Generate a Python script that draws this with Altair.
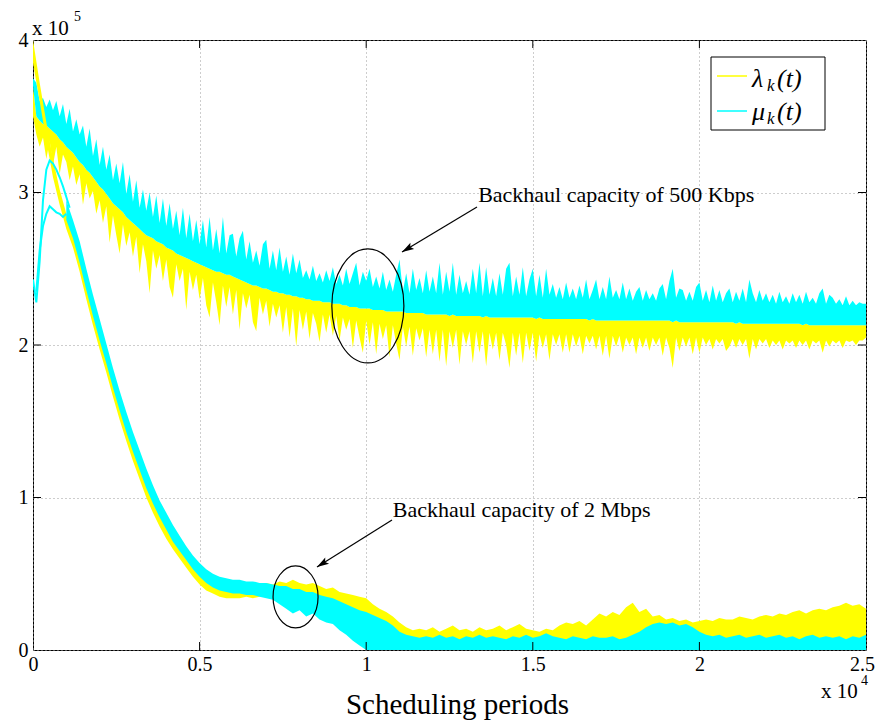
import altair as alt
import pandas as pd

SERIF = "Liberation Serif"
YEL = "#FFFF00"
CYA = "#00FFFF"

# x values are in units of 1e4 scheduling periods, y values in units of 1e5
X_TICKS = [0, 0.5, 1, 1.5, 2, 2.5]
Y_TICKS = [0, 1, 2, 3, 4]
INNER_X_TICKS = [0.5, 1, 1.5, 2]
INNER_Y_TICKS = [1, 2, 3]

# ---------------- 500 Kbps group (sampled every 100 periods) ----------------
U_STEP = 0.01
UPPER_CORE = [
    3.70, 3.50, 3.47, 3.45, 3.44, 3.42, 3.40, 3.38, 3.35, 3.33,
    3.30, 3.28, 3.26, 3.23, 3.20, 3.18, 3.15, 3.13, 3.10, 3.07,
    3.04, 3.02, 2.99, 2.96, 2.93, 2.91, 2.89, 2.87, 2.84, 2.82,
    2.80, 2.78, 2.76, 2.74, 2.72, 2.71, 2.70, 2.68, 2.67, 2.66,
    2.64, 2.63, 2.62, 2.60, 2.59, 2.58, 2.57, 2.56, 2.55, 2.54,
    2.53, 2.52, 2.51, 2.50, 2.49, 2.48, 2.48, 2.47, 2.46, 2.46,
    2.45, 2.44, 2.43, 2.42, 2.41, 2.40, 2.39, 2.39, 2.38, 2.37,
    2.37, 2.36, 2.35, 2.35, 2.34, 2.34, 2.33, 2.33, 2.32, 2.32,
    2.31, 2.31, 2.30, 2.30, 2.29, 2.29, 2.29, 2.28, 2.28, 2.28,
    2.27, 2.27, 2.27, 2.26, 2.26, 2.25, 2.25, 2.25, 2.24, 2.24,
    2.24, 2.24, 2.23, 2.23, 2.23, 2.23, 2.22, 2.22, 2.22, 2.22,
    2.22, 2.22, 2.21, 2.21, 2.21, 2.21, 2.21, 2.21, 2.20, 2.20,
    2.20, 2.20, 2.20, 2.20, 2.20, 2.19, 2.20, 2.19, 2.19, 2.19,
    2.19, 2.19, 2.19, 2.19, 2.19, 2.18, 2.19, 2.18, 2.18, 2.18,
    2.18, 2.18, 2.18, 2.18, 2.18, 2.18, 2.18, 2.18, 2.18, 2.18,
    2.18, 2.17, 2.18, 2.17, 2.17, 2.17, 2.17, 2.17, 2.17, 2.17,
    2.17, 2.17, 2.17, 2.17, 2.17, 2.17, 2.17, 2.16, 2.17, 2.16,
    2.16, 2.16, 2.16, 2.16, 2.16, 2.16, 2.16, 2.16, 2.16, 2.16,
    2.16, 2.16, 2.16, 2.16, 2.16, 2.16, 2.16, 2.16, 2.16, 2.16,
    2.16, 2.16, 2.15, 2.16, 2.15, 2.15, 2.15, 2.15, 2.15, 2.15,
    2.15, 2.15, 2.15, 2.15, 2.15, 2.15, 2.15, 2.15, 2.15, 2.15,
    2.15, 2.14, 2.15, 2.14, 2.14, 2.14, 2.14, 2.14, 2.14, 2.14,
    2.14, 2.14, 2.14, 2.14, 2.14, 2.14, 2.14, 2.14, 2.14, 2.14,
    2.14, 2.13, 2.14, 2.13, 2.13, 2.13, 2.13, 2.13, 2.13, 2.13,
    2.13, 2.13, 2.13, 2.13, 2.13, 2.13, 2.13, 2.13, 2.13, 2.13,
    2.13,
]
UPPER_CYAN_TOP = [
    3.75, 3.72, 3.60, 3.62, 3.56, 3.61, 3.54, 3.60, 3.50, 3.58,
    3.45, 3.55, 3.40, 3.48, 3.38, 3.44, 3.30, 3.42, 3.24, 3.35,
    3.18, 3.30, 3.15, 3.25, 3.08, 3.19, 3.06, 3.20, 2.99, 3.12,
    2.94, 3.08, 2.90, 3.02, 2.88, 3.00, 2.84, 2.98, 2.80, 2.96,
    2.78, 2.93, 2.76, 2.88, 2.72, 2.90, 2.70, 2.86, 2.68, 2.82,
    2.66, 2.82, 2.64, 2.84, 2.62, 2.76, 2.60, 2.84, 2.60, 2.72,
    2.73, 2.58, 2.70, 2.75, 2.56, 2.68, 2.54, 2.62, 2.52, 2.66,
    2.69, 2.50, 2.62, 2.49, 2.64, 2.48, 2.58, 2.46, 2.60, 2.47,
    2.56, 2.44, 2.49, 2.43, 2.52, 2.42, 2.47, 2.41, 2.49, 2.42,
    2.51, 2.40, 2.46, 2.39, 2.50, 2.40, 2.47, 2.54, 2.39, 2.48,
    2.42, 2.50, 2.38, 2.45, 2.37, 2.48, 2.36, 2.43, 2.35, 2.46,
    2.56, 2.35, 2.47, 2.34, 2.50, 2.36, 2.44, 2.34, 2.49, 2.35,
    2.45, 2.34, 2.54, 2.33, 2.48, 2.35, 2.54, 2.33, 2.46, 2.34,
    2.42, 2.33, 2.50, 2.34, 2.54, 2.32, 2.51, 2.33, 2.44, 2.32,
    2.47, 2.33, 2.50, 2.54, 2.32, 2.45, 2.33, 2.51, 2.32, 2.43,
    2.50, 2.32, 2.46, 2.31, 2.50, 2.33, 2.40, 2.31, 2.38, 2.30,
    2.41, 2.31, 2.37, 2.30, 2.39, 2.31, 2.43, 2.30, 2.36, 2.43,
    2.30, 2.38, 2.30, 2.45, 2.31, 2.36, 2.30, 2.41, 2.30, 2.37,
    2.29, 2.35, 2.38, 2.29, 2.36, 2.30, 2.34, 2.29, 2.37, 2.40,
    2.30, 2.42, 2.50, 2.31, 2.37, 2.36, 2.29, 2.35, 2.29, 2.38,
    2.41, 2.29, 2.36, 2.28, 2.39, 2.29, 2.36, 2.28, 2.34, 2.37,
    2.28, 2.35, 2.29, 2.37, 2.28, 2.43, 2.34, 2.28, 2.36, 2.29,
    2.34, 2.28, 2.33, 2.27, 2.35, 2.28, 2.32, 2.27, 2.34, 2.28,
    2.33, 2.27, 2.35, 2.28, 2.31, 2.27, 2.34, 2.37, 2.27, 2.33,
    2.31, 2.27, 2.30, 2.26, 2.32, 2.26, 2.29, 2.26, 2.28, 2.27,
    2.27,
]
UPPER_YELLOW_BOT = [
    3.50, 3.38, 3.30, 3.36, 3.22, 3.34, 3.18, 3.30, 3.12, 3.25,
    3.20, 3.08, 3.17, 3.05, 3.12, 2.92, 3.06, 2.96, 3.01, 2.86,
    2.95, 2.80, 2.91, 2.67, 2.85, 2.72, 2.60, 2.79, 2.65, 2.74,
    2.58, 2.71, 2.47, 2.66, 2.55, 2.34, 2.62, 2.50, 2.59, 2.42,
    2.56, 2.38, 2.31, 2.53, 2.42, 2.50, 2.23, 2.48, 2.36, 2.46,
    2.30, 2.44, 2.26, 2.18, 2.41, 2.28, 2.13, 2.39, 2.25, 2.38,
    2.20, 2.36, 2.10, 2.34, 2.24, 2.33, 2.15, 2.09, 2.31, 2.20,
    2.29, 2.12, 2.27, 2.18, 2.26, 2.08, 2.25, 2.05, 2.24, 1.99,
    2.23, 2.10, 2.22, 2.04, 2.21, 2.14, 2.02, 2.20, 2.08, 2.20,
    2.06, 2.19, 2.03, 2.18, 2.10, 2.17, 1.98, 2.16, 2.05, 1.95,
    2.16, 2.00, 2.15, 1.94, 2.14, 2.04, 2.13, 1.92, 2.13, 2.01,
    1.90, 2.12, 1.99, 2.12, 1.93, 2.11, 2.03, 2.11, 1.92, 2.10,
    1.94, 2.10, 1.89, 2.10, 1.86, 2.09, 1.98, 2.10, 1.87, 2.09,
    2.00, 2.09, 1.88, 2.09, 1.95, 2.09, 1.86, 2.08, 1.97, 2.08,
    1.90, 2.08, 2.00, 1.85, 2.08, 1.93, 2.08, 1.88, 2.08, 1.96,
    2.08, 1.89, 2.07, 1.98, 2.07, 1.90, 2.07, 2.00, 2.07, 1.95,
    2.07, 1.95, 2.07, 1.99, 2.06, 1.94, 2.06, 2.01, 2.06, 1.97,
    2.06, 1.93, 2.06, 1.91, 2.06, 1.99, 2.06, 1.95, 2.05, 2.00,
    2.05, 1.94, 2.05, 1.98, 2.05, 1.96, 2.05, 2.00, 2.05, 1.93,
    2.05, 1.98, 1.85, 2.05, 1.96, 2.05, 1.99, 2.05, 1.94, 2.05,
    1.95, 2.05, 2.00, 2.04, 1.97, 2.04, 2.01, 2.04, 1.96, 1.99,
    2.04, 1.98, 2.04, 2.00, 2.04, 1.91, 2.04, 1.97, 2.04, 2.01,
    2.04, 1.98, 2.03, 2.00, 2.03, 1.97, 2.03, 2.01, 2.03, 1.98,
    2.03, 2.00, 2.03, 1.97, 2.03, 2.01, 2.03, 1.95, 2.03, 1.99,
    2.03, 2.01, 2.03, 1.98, 2.03, 2.02, 2.03, 2.00, 2.03, 2.03,
    2.05,
]

# ---------------- 2 Mbps group (sampled every 200 periods) ----------------
L_STEP = 0.02
LOWER_YEL_HI = [
    4.00, 3.72, 3.46, 3.22, 3.02, 2.86, 2.74, 2.58, 2.40, 2.23,
    2.07, 1.92, 1.76, 1.61, 1.47, 1.34, 1.22, 1.10, 0.99, 0.90,
    0.82, 0.75, 0.69, 0.63, 0.58, 0.53, 0.49, 0.46, 0.44, 0.43,
    0.43, 0.42, 0.43, 0.42, 0.43, 0.44, 0.43, 0.45, 0.44, 0.46,
    0.44, 0.43, 0.44, 0.42, 0.40, 0.41, 0.38, 0.37, 0.36, 0.35,
    0.34, 0.30, 0.27, 0.25, 0.22, 0.18, 0.15, 0.13, 0.14, 0.13,
    0.15, 0.12, 0.14, 0.16, 0.13, 0.14, 0.12, 0.15, 0.13, 0.14,
    0.16, 0.13, 0.15, 0.17, 0.14, 0.13, 0.12, 0.14, 0.13, 0.16,
    0.18, 0.17, 0.19, 0.16, 0.20, 0.24, 0.22, 0.25, 0.23, 0.28,
    0.31, 0.25, 0.27, 0.22, 0.23, 0.20, 0.21, 0.19, 0.20, 0.18,
    0.19, 0.20, 0.19, 0.21, 0.20, 0.20, 0.22, 0.21, 0.20, 0.22,
    0.23, 0.22, 0.24, 0.23, 0.25, 0.26, 0.24, 0.26, 0.27, 0.26,
    0.28, 0.29, 0.31, 0.29, 0.30, 0.27,
]
LOWER_YEL_LO = [
    3.85, 3.60, 3.34, 3.10, 2.92, 2.76, 2.64, 2.48, 2.30, 2.13,
    1.97, 1.82, 1.66, 1.51, 1.37, 1.24, 1.12, 1.00, 0.90, 0.81,
    0.73, 0.66, 0.60, 0.54, 0.48, 0.43, 0.39, 0.37, 0.35, 0.34,
    0.34, 0.34, 0.35, 0.34, 0.35, 0.35, 0.34, 0.35, 0.34, 0.35,
    0.34, 0.33, 0.33, 0.32, 0.31, 0.30, 0.29, 0.28, 0.26, 0.24,
    0.22, 0.19, 0.16, 0.13, 0.10, 0.08, 0.06, 0.05, 0.05, 0.05,
    0.05, 0.06, 0.05, 0.05, 0.06, 0.05, 0.05, 0.06, 0.05, 0.05,
    0.06, 0.05, 0.05, 0.06, 0.05, 0.05, 0.06, 0.05, 0.05, 0.06,
    0.05, 0.06, 0.06, 0.05, 0.06, 0.07, 0.06, 0.07, 0.06, 0.07,
    0.08, 0.07, 0.04, 0.01, 0.01, 0.02, 0.01, 0.03, 0.05, 0.06,
    0.07, 0.07, 0.06, 0.07, 0.06, 0.06, 0.07, 0.06, 0.06, 0.07,
    0.06, 0.07, 0.07, 0.06, 0.07, 0.06, 0.07, 0.07, 0.06, 0.07,
    0.06, 0.07, 0.06, 0.07, 0.06, 0.07,
]
LOWER_CYAN_START = 5  # cyan band of the 2 Mbps group starts at 1000 periods
LOWER_CYAN_HI = [
    2.95, 2.82, 2.68, 2.50, 2.33,
    2.17, 2.01, 1.85, 1.70, 1.56, 1.43, 1.31, 1.19, 1.08, 0.98,
    0.90, 0.82, 0.75, 0.68, 0.62, 0.57, 0.53, 0.50, 0.48, 0.47,
    0.46, 0.46, 0.45, 0.45, 0.44, 0.44, 0.43, 0.42, 0.42, 0.40,
    0.40, 0.38, 0.38, 0.36, 0.35, 0.34, 0.32, 0.30, 0.28, 0.26,
    0.25, 0.23, 0.21, 0.19, 0.16, 0.12, 0.10, 0.09, 0.08, 0.09,
    0.08, 0.10, 0.08, 0.09, 0.07, 0.09, 0.08, 0.10, 0.08, 0.09,
    0.08, 0.07, 0.09, 0.08, 0.10, 0.08, 0.09, 0.11, 0.09, 0.08,
    0.07, 0.09, 0.08, 0.07, 0.09, 0.08, 0.08, 0.09, 0.07, 0.08,
    0.10, 0.12, 0.15, 0.17, 0.18, 0.17, 0.18, 0.16, 0.17, 0.15,
    0.12, 0.10, 0.09, 0.10, 0.08, 0.09, 0.10, 0.08, 0.09, 0.10,
    0.08, 0.09, 0.10, 0.08, 0.09, 0.07, 0.09, 0.10, 0.08, 0.09,
    0.08, 0.09, 0.07, 0.09, 0.08, 0.10,
]
LOWER_CYAN_LO = [
    2.82, 2.70, 2.54, 2.36, 2.19,
    2.03, 1.88, 1.72, 1.57, 1.43, 1.30, 1.18, 1.06, 0.96, 0.87,
    0.79, 0.71, 0.65, 0.59, 0.53, 0.48, 0.44, 0.41, 0.39, 0.38,
    0.37, 0.37, 0.36, 0.36, 0.35, 0.34, 0.33, 0.30, 0.27, 0.24,
    0.26, 0.22, 0.24, 0.20, 0.18, 0.17, 0.13, 0.10, 0.06, 0.03,
    0.00, 0.00, 0.00, 0.00, 0.00, 0.00, 0.00, 0.00, 0.00, 0.00,
    0.00, 0.00, 0.00, 0.00, 0.00, 0.00, 0.00, 0.00, 0.00, 0.00,
    0.00, 0.00, 0.00, 0.00, 0.00, 0.00, 0.00, 0.00, 0.00, 0.00,
    0.00, 0.00, 0.00, 0.00, 0.00, 0.00, 0.00, 0.00, 0.00, 0.00,
    0.00, 0.00, 0.00, 0.00, 0.00, 0.00, 0.00, 0.00, 0.00, 0.00,
    0.00, 0.00, 0.00, 0.00, 0.00, 0.00, 0.00, 0.00, 0.00, 0.00,
    0.00, 0.00, 0.00, 0.00, 0.00, 0.00, 0.00, 0.00, 0.00, 0.00,
    0.00, 0.00, 0.00, 0.00, 0.00, 0.00,
]
# early individual cyan traces of the 2 Mbps group
CYAN_A_T = [0.00, 0.01, 0.02, 0.03, 0.04, 0.05, 0.06, 0.07, 0.08, 0.09, 0.10, 0.11]
CYAN_A_V = [2.43, 2.28, 2.55, 2.95, 3.15, 3.21, 3.19, 3.15, 3.10, 3.04, 2.97, 2.90]
CYAN_B_T = [0.01, 0.02, 0.03, 0.04, 0.05, 0.06, 0.07, 0.08, 0.09, 0.10]
CYAN_B_V = [2.35, 2.62, 2.78, 2.86, 2.91, 2.89, 2.87, 2.86, 2.84, 2.86]

# annotations
ANN_LABELS = ["Backhaul capacity of 500 Kbps", "Backhaul capacity of 2 Mbps"]
ANN_T = [1.336, 1.080]
ANN_V = [2.984, 0.918]
ARROW_T0 = [1.3325, 1.0774]
ARROW_V0 = [2.905, 0.8525]
ARROW_T1 = [1.1075, 0.8523]
ARROW_V1 = [2.610, 0.5443]
ARROW_ANGLE = [239, 238]
ELLIPSE_T = [1.005, 0.788]
ELLIPSE_V = [2.256, 0.348]

# ---------------- tables ----------------
up = pd.DataFrame({
    "t": [round(i * U_STEP, 2) for i in range(len(UPPER_CORE))],
    "core": UPPER_CORE, "ctop": UPPER_CYAN_TOP, "ybot": UPPER_YELLOW_BOT,
})
lowy = pd.DataFrame({
    "t": [round(i * L_STEP, 2) for i in range(len(LOWER_YEL_HI))],
    "hi": LOWER_YEL_HI, "lo": LOWER_YEL_LO,
})
lowc = pd.DataFrame({
    "t": [round((i + LOWER_CYAN_START) * L_STEP, 2) for i in range(len(LOWER_CYAN_HI))],
    "hi": LOWER_CYAN_HI, "lo": LOWER_CYAN_LO,
})
cya = pd.DataFrame({"t": CYAN_A_T, "v": CYAN_A_V})
cyb = pd.DataFrame({"t": CYAN_B_T, "v": CYAN_B_V})
ann = pd.DataFrame({"t": ANN_T, "v": ANN_V, "label": ANN_LABELS})
arr = pd.DataFrame({"t0": ARROW_T0, "v0": ARROW_V0, "t1": ARROW_T1, "v1": ARROW_V1, "ang": ARROW_ANGLE})
ell1 = pd.DataFrame({"t": ELLIPSE_T[:1], "v": ELLIPSE_V[:1]})
ell2 = pd.DataFrame({"t": ELLIPSE_T[1:], "v": ELLIPSE_V[1:]})
xt = pd.DataFrame({"t": INNER_X_TICKS})
yt = pd.DataFrame({"v": INNER_Y_TICKS})
one = pd.DataFrame({"k": [0]})

XS = alt.Scale(domain=[0, 2.5], nice=False, zero=False)
YS = alt.Scale(domain=[0, 4], nice=False, zero=False)
X_AXIS = alt.Axis(values=X_TICKS, labelExpr="'' + datum.value", title="Scheduling periods",
                  titleFont=SERIF, titleFontSize=29, titleFontWeight="normal", titleColor="black",
                  titleX=424, titleY=63, titleBaseline="alphabetic", labelPadding=4,
                  labelOffset={"condition": {"test": "datum.value == 2.5", "value": -4}, "value": 0},
                  labelFlush=False, labelOverlap=False)
Y_AXIS = alt.Axis(values=Y_TICKS, labelExpr="'' + datum.value", title=None, labelPadding=5,
                  labelFlush=False, labelOverlap=False)


def X(f="t"):
    return alt.X(f"{f}:Q", scale=XS, axis=X_AXIS)


def Y(f):
    return alt.Y(f"{f}:Q", scale=YS, axis=Y_AXIS)


layers = []
# 500 Kbps
layers.append(alt.Chart(up).mark_area(color=YEL, opacity=1, clip=True).encode(x=X(), y=Y("ybot"), y2="core:Q"))
layers.append(alt.Chart(up).mark_area(color=CYA, opacity=1, clip=True).encode(x=X(), y=Y("core"), y2="ctop:Q"))
# 2 Mbps
layers.append(alt.Chart(lowy).mark_area(color=YEL, opacity=1, clip=True).encode(x=X(), y=Y("lo"), y2="hi:Q"))
layers.append(alt.Chart(lowc).mark_area(color=CYA, opacity=1, clip=True).encode(x=X(), y=Y("lo"), y2="hi:Q"))
layers.append(alt.Chart(cya).mark_line(color=CYA, strokeWidth=2, clip=True).encode(x=X(), y=Y("v")))
layers.append(alt.Chart(cyb).mark_line(color=CYA, strokeWidth=2, clip=True).encode(x=X(), y=Y("v")))

# ellipses
E1 = "M0,-1C0.349,-1 0.632,-0.552 0.632,0C0.632,0.552 0.349,1 0,1C-0.349,1 -0.632,0.552 -0.632,0C-0.632,-0.552 -0.349,-1 0,-1Z"
E2 = "M0,-1C0.401,-1 0.726,-0.552 0.726,0C0.726,0.552 0.401,1 0,1C-0.401,1 -0.726,0.552 -0.726,0C-0.726,-0.552 -0.401,-1 0,-1Z"
layers.append(alt.Chart(ell1).mark_point(shape=E1, size=12996, filled=False, color="black",
                                         strokeWidth=1.2, opacity=1).encode(x=X(), y=Y("v")))
layers.append(alt.Chart(ell2).mark_point(shape=E2, size=3844, filled=False, color="black",
                                         strokeWidth=1.2, opacity=1).encode(x=X(), y=Y("v")))
# arrows
layers.append(alt.Chart(arr).mark_rule(color="black", strokeWidth=1.2).encode(
    x=X("t0"), y=Y("v0"), x2="t1:Q", y2="v1:Q"))
HEAD = "M0,0L0.6,2L0,1.6L-0.6,2Z"
layers.append(alt.Chart(arr).mark_point(shape=HEAD, size=144, filled=True, color="black", opacity=1).encode(
    x=X("t1"), y=Y("v1"), angle=alt.Angle("ang:Q", scale=None)))
layers.append(alt.Chart(ann).mark_text(align="left", baseline="middle", font=SERIF, fontSize=22,
                                       color="black").encode(x=X(), y=Y("v"), text="label:N"))

# inward ticks (MATLAB style)
layers.append(alt.Chart(xt).mark_rule(color="black").encode(x=X(), y=alt.value(610), y2=alt.value(602)))
layers.append(alt.Chart(xt).mark_rule(color="black").encode(x=X(), y=alt.value(0), y2=alt.value(8)))
layers.append(alt.Chart(yt).mark_rule(color="black").encode(y=Y("v"), x=alt.value(0), x2=alt.value(8)))
layers.append(alt.Chart(yt).mark_rule(color="black").encode(y=Y("v"), x=alt.value(833), x2=alt.value(825)))


def label(txt, x, y, size, style="normal", align="left", baseline="alphabetic"):
    return alt.Chart(one).mark_text(text=txt, font=SERIF, fontSize=size, fontStyle=style, align=align,
                                    baseline=baseline, color="black").encode(x=alt.value(x), y=alt.value(y))


# legend
layers.append(alt.Chart(one).mark_rect(fill="white", stroke="black", strokeWidth=1).encode(
    x=alt.value(678), x2=alt.value(792), y=alt.value(17), y2=alt.value(90)))
layers.append(alt.Chart(one).mark_rule(color=YEL, strokeWidth=1.5).encode(
    x=alt.value(684), x2=alt.value(714), y=alt.value(36)))
layers.append(alt.Chart(one).mark_rule(color=CYA, strokeWidth=1.5).encode(
    x=alt.value(684), x2=alt.value(714), y=alt.value(71)))
layers.append(label("λ", 719, 39, 26, "italic", baseline="middle"))
layers.append(label("k", 734, 46, 17, "italic", baseline="middle"))
layers.append(label("(t)", 744, 39, 26, "italic", baseline="middle"))
layers.append(label("μ", 719, 72, 26, "italic", baseline="middle"))
layers.append(label("k", 734, 79, 17, "italic", baseline="middle"))
layers.append(label("(t)", 744, 72, 26, "italic", baseline="middle"))

# exponent labels
layers.append(label("x 10", -1, -5, 21))
layers.append(label("5", 41, -19, 14))
layers.append(label("x 10", 788, 658, 21))
layers.append(label("4", 828, 645, 14))

chart = alt.layer(*layers).properties(
    width=833, height=610,
    autosize=alt.AutoSizeParams(type="none"),
    padding={"left": 25, "top": 32, "right": 9, "bottom": 76},
).configure(font=SERIF).configure_view(stroke="black", strokeWidth=1).configure_axis(
    labelFont=SERIF, labelFontSize=20, labelColor="black", domain=False, ticks=False,
    grid=True, gridDash=[1, 3], gridColor="#9a9a9a", gridOpacity=1, gridWidth=1,
)

chart.save("out.html", embed_options={"renderer": "svg", "actions": False})
